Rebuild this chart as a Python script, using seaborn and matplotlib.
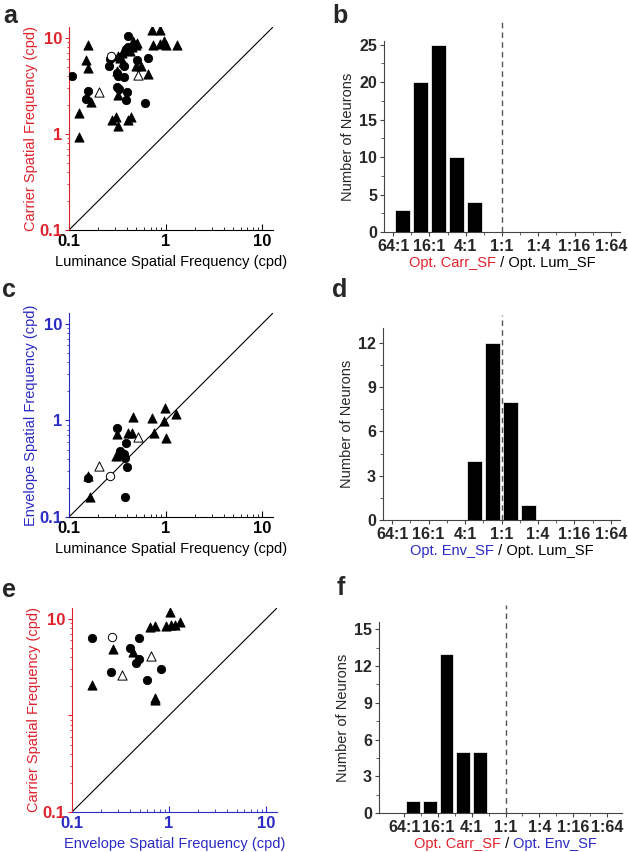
import numpy as np
import pandas as pd
import matplotlib
matplotlib.use("Agg")
import matplotlib.pyplot as plt
import matplotlib.ticker as mticker
import seaborn as sns

RED = '#e0222c'
BLUE = '#2a2ac4'

# ---------------- panel a : luminance vs carrier SF ----------------
a_circ_x = [0.108, 0.41, 0.158, 0.149, 0.265, 0.259, 0.311, 0.373, 0.373, 0.311, 0.33, 0.395,
            0.388, 0.501, 0.652, 0.62, 0.41, 0.39, 0.32]
a_circ_y = [3.98, 10.4, 2.83, 2.33, 6.05, 5.15, 4.33, 5.15, 3.93, 3.09, 2.95, 2.71,
            2.28, 5.95, 6.2, 2.1, 8.0, 7.6, 4.0]
a_tri_x = [0.127, 0.127, 0.158, 0.149, 0.158, 0.169, 0.28, 0.304, 0.323, 0.323, 0.318, 0.323,
           0.356, 0.379, 0.41, 0.438, 0.462, 0.489, 0.51, 0.489, 0.556, 0.652, 0.718, 0.872,
           0.74, 0.872, 0.96, 1.0, 1.32, 0.34, 0.36, 0.45, 0.43]
a_tri_y = [1.67, 0.94, 8.5, 5.85, 4.87, 2.13, 1.41, 1.52, 1.22, 2.56, 4.49, 6.44,
           6.98, 7.45, 1.41, 1.52, 9.25, 8.5, 8.8, 5.07, 5.07, 4.2, 12.2, 12.2,
           8.5, 8.7, 9.25, 8.5, 8.5, 6.2, 5.6, 8.0, 7.3]
a_ocirc_x = [0.27]
a_ocirc_y = [6.55]
a_otri_x = [0.206, 0.513]
a_otri_y = [2.71, 4.15]

# ---------------- panel c : luminance vs envelope SF ----------------
c_circ_x = [0.311, 0.386, 0.337, 0.37, 0.379, 0.395, 0.379, 0.158]
c_circ_y = [0.83, 0.588, 0.482, 0.454, 0.405, 0.331, 0.161, 0.254]
c_tri_x = [0.462, 0.718, 0.98, 1.29, 0.97, 1.0, 0.756, 0.41, 0.445, 0.311, 0.304, 0.329,
           0.158, 0.167]
c_tri_y = [1.09, 1.07, 1.34, 1.17, 0.99, 0.66, 0.737, 0.737, 0.737, 0.72, 0.43, 0.445,
           0.265, 0.161]
c_ocirc_x = [0.265]
c_ocirc_y = [0.265]
c_otri_x = [0.206, 0.513]
c_otri_y = [0.336, 0.67]

# ---------------- panel e : envelope vs carrier SF ----------------
e_circ_x = [0.161, 0.494, 0.40, 0.486, 0.46, 0.252, 0.83, 0.593]
e_circ_y = [6.41, 6.41, 5.05, 3.88, 3.53, 2.79, 3.06, 2.32]
e_tri_x = [0.161, 0.262, 0.43, 0.722, 0.72, 0.64, 0.72, 0.94, 1.05, 1.16, 1.29, 1.03]
e_tri_y = [2.09, 4.86, 4.56, 1.53, 1.45, 8.26, 8.5, 8.5, 8.6, 8.6, 9.3, 11.8]
e_ocirc_x = [0.258]
e_ocirc_y = [6.5]
e_otri_x = [0.652, 0.328]
e_otri_y = [4.14, 2.65]

# ---------------- histograms (log2 ratio bins, 64:1 ... 1:64) ----------------
ratio_ticks = [-6, -4, -2, 0, 2, 4, 6]
ratio_labels = ['64:1', '16:1', '4:1', '1:1', '1:4', '1:16', '1:64']
b_centers = [-5.5, -4.5, -3.5, -2.5, -1.5]
b_counts = [3, 20, 25, 10, 4]
d_centers = [-1.5, -0.5, 0.5, 1.5]
d_counts = [4, 12, 8, 1]
f_centers = [-5.5, -4.5, -3.5, -2.5, -1.5]
f_counts = [1, 1, 13, 5, 5]

sns.set_style('ticks')
plt.rcParams['font.family'] = ['Liberation Sans', 'DejaVu Sans']
plt.rcParams['font.size'] = 10

fig = plt.figure(figsize=(6.28, 8.52), dpi=100)

W, H = 628.0, 852.0
def box(l, t, r, b):
    return [l / W, 1 - b / H, (r - l) / W, (b - t) / H]


def scatter_panel(ax, cx, cy, tx, ty, ocx, ocy, otx, oty, xcol, ycol, xlab, ylab, ylabels):
    sns.scatterplot(x=tx, y=ty, marker='^', s=44, color='black', edgecolor='black',
                    linewidth=0.6, ax=ax, zorder=3)
    sns.scatterplot(x=cx, y=cy, marker='o', s=36, color='black', edgecolor='black',
                    linewidth=0.6, ax=ax, zorder=3)
    sns.scatterplot(x=otx, y=oty, marker='^', s=44, color='white', edgecolor='black',
                    linewidth=0.7, ax=ax, zorder=4)
    sns.scatterplot(x=ocx, y=ocy, marker='o', s=36, color='white', edgecolor='black',
                    linewidth=0.7, ax=ax, zorder=4)
    ax.set_xscale('log')
    ax.set_yscale('log')
    ax.set_xlim(0.1, 13)
    ax.set_ylim(0.1, 13)
    ax.plot([0.1, 13], [0.1, 13], color='black', lw=0.8, zorder=2)
    for axis in (ax.xaxis, ax.yaxis):
        axis.set_major_locator(mticker.FixedLocator([0.1, 1, 10]))
        axis.set_minor_locator(mticker.LogLocator(base=10, subs=np.arange(2, 10)))
        axis.set_minor_formatter(mticker.NullFormatter())
    ax.xaxis.set_major_formatter(mticker.FixedFormatter(['0.1', '1', '10']))
    ax.yaxis.set_major_formatter(mticker.FixedFormatter(ylabels))
    sns.despine(ax=ax)
    ax.spines['left'].set_color(ycol)
    ax.spines['bottom'].set_color(xcol)
    ax.spines['left'].set_linewidth(0.8)
    ax.spines['bottom'].set_linewidth(0.8)
    ax.tick_params(axis='x', which='major', direction='in', length=4, width=0.8, colors=xcol,
                   labelsize=12, pad=3)
    ax.tick_params(axis='x', which='minor', direction='in', length=2, width=0.6, colors=xcol)
    ax.tick_params(axis='y', which='major', direction='out', length=3, width=0.8, colors=ycol,
                   labelsize=12, pad=2)
    ax.tick_params(axis='y', which='minor', direction='out', length=1.5, width=0.6, colors=ycol)
    for t in ax.get_xticklabels() + ax.get_yticklabels():
        t.set_fontweight('bold')
    ax.set_xlabel(xlab, color=xcol, fontsize=10.5, labelpad=4)
    ax.set_ylabel(ylab, color=ycol, fontsize=10.5, labelpad=1)


def hist_panel(ax, centers, counts, xlim, ylim, yticks, yminor, vtop, parts):
    sns.barplot(x=centers, y=counts, native_scale=True, color='black', width=0.82,
                edgecolor='white', linewidth=0.5, errorbar=None, ax=ax, zorder=2)
    ax.set_xlim(*xlim)
    ax.set_ylim(*ylim)
    ax.set_xticks(ratio_ticks)
    ax.set_xticklabels(ratio_labels)
    ax.xaxis.set_minor_locator(mticker.FixedLocator(np.arange(-6, 7, 1)))
    ax.set_yticks(yticks)
    ax.yaxis.set_minor_locator(mticker.MultipleLocator(yminor))
    sns.despine(ax=ax)
    for s in ('left', 'bottom'):
        ax.spines[s].set_color('#444444')
        ax.spines[s].set_linewidth(0.8)
    ax.tick_params(which='major', direction='out', length=3, width=0.8, labelsize=11.5, pad=2,
                   color='#444444')
    ax.tick_params(which='minor', direction='out', length=2, width=0.6, color='#444444')
    for t in ax.get_xticklabels() + ax.get_yticklabels():
        t.set_fontweight('bold')
    ax.set_ylabel('Number of Neurons', fontsize=10.5, labelpad=3)
    ax.set_xlabel('')
    ax.plot([0, 0], [0, vtop], transform=ax.get_xaxis_transform(), color='#555555',
            lw=1.0, ls=(0, (4, 3)), clip_on=False, zorder=5)
    # multi-colour x label
    texts = []
    t0 = ax.text(0, -0.125, parts[0][0], color=parts[0][1], transform=ax.transAxes,
                 ha='left', va='top', fontsize=10.5)
    texts.append(t0)
    prev = t0
    for s, c in parts[1:]:
        prev = ax.annotate(s, xy=(1, 0), xycoords=prev, ha='left', va='bottom',
                           color=c, fontsize=10.5)
        texts.append(prev)
    return texts


ax_a = fig.add_axes(box(69, 27, 273, 230))
scatter_panel(ax_a, a_circ_x, a_circ_y, a_tri_x, a_tri_y, a_ocirc_x, a_ocirc_y, a_otri_x, a_otri_y,
              'black', RED, 'Luminance Spatial Frequency (cpd)', 'Carrier Spatial Frequency (cpd)',
              ['0.1', '1', '10'])

ax_c = fig.add_axes(box(69, 313, 273, 517))
scatter_panel(ax_c, c_circ_x, c_circ_y, c_tri_x, c_tri_y, c_ocirc_x, c_ocirc_y, c_otri_x, c_otri_y,
              'black', BLUE, 'Luminance Spatial Frequency (cpd)', 'Envelope Spatial Frequency (cpd)',
              ['0.1', '1', '10'])

ax_e = fig.add_axes(box(72, 608, 277, 812))
scatter_panel(ax_e, e_circ_x, e_circ_y, e_tri_x, e_tri_y, e_ocirc_x, e_ocirc_y, e_otri_x, e_otri_y,
              BLUE, RED, 'Envelope Spatial Frequency (cpd)', 'Carrier Spatial Frequency (cpd)',
              ['0.1', '', '10'])

ax_b = fig.add_axes(box(384, 41, 620, 232))
lab_b = hist_panel(ax_b, b_centers, b_counts, (-6.5, 6.5), (0, 25.5), [0, 5, 10, 15, 20, 25], 2.5,
                   1.12, [('Opt. Carr_SF', RED), (' / Opt. Lum_SF', 'black')])

ax_d = fig.add_axes(box(383, 328, 620, 520))
lab_d = hist_panel(ax_d, d_centers, d_counts, (-6.5, 6.5), (0, 13), [0, 3, 6, 9, 12], 1.5,
                   1.07, [('Opt. Env_SF', BLUE), (' / Opt. Lum_SF', 'black')])

ax_f = fig.add_axes(box(379, 622, 622, 813))
lab_f = hist_panel(ax_f, f_centers, f_counts, (-7.5, 6.9), (0, 15.6), [0, 3, 6, 9, 12, 15], 1.5,
                   1.09, [('Opt. Carr_SF', RED), (' / ', 'black'), ('Opt. Env_SF', BLUE)])

# centre the multi-colour labels under the 1:1 position
fig.canvas.draw()
renderer = fig.canvas.get_renderer()
for ax, texts in ((ax_b, lab_b), (ax_d, lab_d), (ax_f, lab_f)):
    x0 = texts[0].get_window_extent(renderer).x0
    x1 = texts[-1].get_window_extent(renderer).x1
    cx = ax.transData.transform((0, 0))[0]
    shift = cx - (x0 + x1) / 2.0
    ax_x0 = ax.transAxes.transform((0, 0))[0]
    ax_w = ax.transAxes.transform((1, 0))[0] - ax_x0
    px = ax.transAxes.transform((0, 0))[0] + shift
    texts[0].set_x((px - ax_x0) / ax_w)

# panel letters
for lab, x, y in (('a', 10, 16), ('b', 340, 16), ('c', 9, 290), ('d', 340, 290),
                  ('e', 9, 590), ('f', 341, 588)):
    fig.text(x / W, 1 - y / H, lab, fontsize=18, fontweight='bold', ha='center', va='center')

fig.savefig('out.png', dpi=100)
